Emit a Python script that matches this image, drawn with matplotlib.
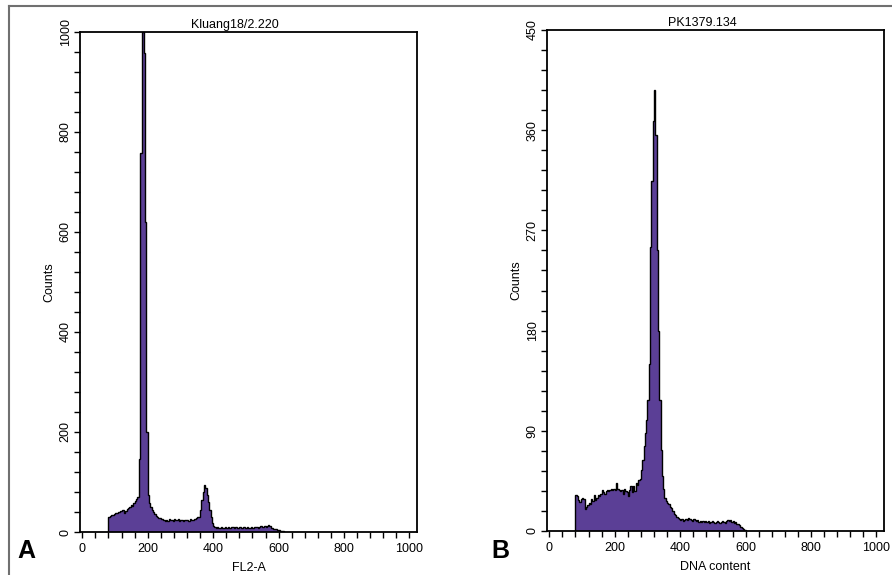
import numpy as np
import matplotlib
matplotlib.use("Agg")
import matplotlib.pyplot as plt
from matplotlib.lines import Line2D
from matplotlib.ticker import MultipleLocator

plt.rcParams['font.family'] = ['Liberation Sans', 'DejaVu Sans']

# =====================================================================
# DATA (histogram counts, 4-channel bins)
# =====================================================================
BIN_W = 4

title_a = "Kluang18/2.220"
xlabel_a = "FL2-A"
start_a = 80
counts_a = [
    31, 33, 35, 34, 36, 38, 39, 41, 40, 43,          # 80-116
    44, 45, 38, 42, 47, 49, 50, 54, 52, 58,          # 120-156
    62, 66, 70, 147, 758, 758, 1000, 958, 620, 200,  # 160-196
    75, 58, 50, 44, 40, 36, 33, 30, 28, 29,          # 200-236
    26, 27, 24, 23, 25, 22, 26, 24, 25, 23,          # 240-276
    26, 24, 25, 26, 23, 25, 24, 22, 25, 24,          # 280-316
    25, 23, 26, 25, 24, 27, 26, 28, 30, 31,          # 320-356
    44, 64, 80, 95, 88, 75, 60, 44, 30, 18,          # 360-396
    12, 10, 9, 10, 8, 9, 10, 8, 9, 10,               # 400-436
    9, 10, 8, 9, 11, 10, 9, 10, 8, 9,                # 440-476
    10, 9, 8, 10, 9, 8, 10, 9, 8, 10,                # 480-516
    9, 10, 11, 10, 9, 11, 12, 10, 11, 12,            # 520-556
    11, 13, 14, 12, 9, 8, 7, 6, 6, 4,                # 560-596
    4, 3, 3, 2, 1,                                   # 600-616
]
yticks_a = [0, 200, 400, 600, 800, 1000]

title_b = "PK1379.134"
xlabel_b = "DNA content"
start_b = 80
counts_b = [
    32, 31, 28, 26, 29, 30, 29, 20, 22, 23,          # 80-116
    25, 24, 29, 27, 32, 28, 30, 32, 31, 33,          # 120-156
    37, 35, 33, 36, 37, 36, 37, 38, 37, 38,          # 160-196
    37, 43, 38, 37, 36, 37, 33, 38, 36, 35,          # 200-236
    31, 37, 40, 35, 40, 36, 43, 41, 46, 47,          # 240-276
    55, 64, 76, 88, 100, 118, 150, 255, 314, 368,    # 280-316
    396, 356, 252, 180, 118, 73, 49, 38, 30, 27,     # 320-356
    25, 24, 22, 21, 18, 15, 14, 13, 12, 11,          # 360-396
    10, 11, 9, 10, 11, 10, 12, 11, 10, 9,            # 400-436
    11, 10, 9, 10, 8, 9, 8, 9, 8, 9,                 # 440-476
    8, 9, 7, 8, 9, 8, 7, 8, 9, 8,                    # 480-516
    7, 8, 9, 8, 7, 9, 10, 9, 10, 8,                  # 520-556
    9, 7, 8, 6, 6, 5, 4, 3, 2, 1,                    # 560-596
]
yticks_b = [0, 90, 180, 270, 360, 450]

xticks = [0, 200, 400, 600, 800, 1000]

PURPLE = '#5b3f96'
W, H = 892, 575

# =====================================================================
# FIGURE
# =====================================================================
fig = plt.figure(figsize=(W / 100, H / 100), dpi=100)
fig.patch.set_facecolor('white')

# partial frame of the source image (top and left edges)
fig.add_artist(Line2D([9 / W, 1.0], [1 - 6 / H, 1 - 6 / H], color='#707070', lw=1.5))
fig.add_artist(Line2D([9 / W, 9 / W], [0.0, 1 - 6 / H], color='#707070', lw=1.5))


def draw_panel(rect, counts, start, title, xlabel, yticks, letter, letter_x):
    ax = fig.add_axes(rect)
    edges = start + BIN_W * np.arange(len(counts) + 1)
    ax.stairs(counts, edges, baseline=0, fill=True, color=PURPLE, lw=0)
    ax.stairs(counts, edges, baseline=0, color='black', lw=1.0)

    ax.set_xlim(-7, 1023)
    ax.set_ylim(0, yticks[-1])
    ax.set_xticks(xticks)
    ax.xaxis.set_minor_locator(MultipleLocator(40))
    ax.set_yticks(yticks)
    ax.yaxis.set_minor_locator(MultipleLocator((yticks[1] - yticks[0]) / 5))
    ax.tick_params(which='both', direction='out', length=4, width=1,
                   labelsize=9, pad=2)
    ax.tick_params(axis='x', pad=4)
    for lbl in ax.get_yticklabels():
        lbl.set_rotation(90)
        lbl.set_va('center')
    for spine in ax.spines.values():
        spine.set_linewidth(1.3)

    ax.set_title(title, fontsize=9, x=0.46, pad=3)
    ax.set_xlabel(xlabel, fontsize=9, labelpad=5)
    ax.set_ylabel("Counts", fontsize=9)
    ax.yaxis.set_label_coords(-25 / 337, 0.5)

    fig.text(letter_x / W, 1 - 551 / H, letter, fontsize=18, fontweight='bold',
             ha='center', va='center')
    return ax


draw_panel([80 / W, 1 - 532 / H, 337 / W, 500 / H], counts_a, start_a,
           title_a, xlabel_a, yticks_a, "A", 26)
draw_panel([547 / W, 1 - 531 / H, 337 / W, 501 / H], counts_b, start_b,
           title_b, xlabel_b, yticks_b, "B", 500)

fig.savefig("out.png", dpi=100)
